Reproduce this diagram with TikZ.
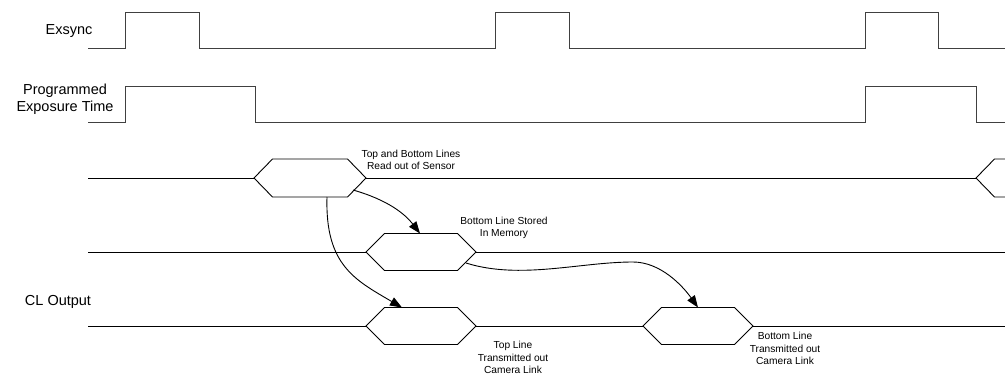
\documentclass[tikz,border=0pt]{standalone}
\usepackage{fontspec}
\setmainfont{Liberation Sans}
\usetikzlibrary{arrows.meta,calc}
\begin{document}
\begin{tikzpicture}[x=1pt,y=-1pt,
  wave/.style={line width=1pt,draw=black!75},
  sig/.style={line width=0.9pt,draw=black},
  hexbox/.style={draw=none,inner sep=0pt,outer sep=0pt,minimum width=110pt,minimum height=37pt},
  biglbl/.style={font=\fontsize{14.5}{17}\selectfont,align=center,inner sep=0pt},
  smalllbl/.style={font=\fontsize{10.2}{12.5}\selectfont,align=center,inner sep=0pt},
  flow/.style={line width=0.9pt,-{Triangle[length=12pt,width=9pt]}}]
\useasboundingbox (0,0) rectangle (1005,375);
\clip (0,0) rectangle (1005,375);
% waveforms
\draw[wave] (88,48) -- (125,48) -- (125,12) -- (199,12) -- (199,48) -- (495,48) -- (495,12) -- (569,12) -- (569,48) -- (865,48) -- (865,12) -- (938,12) -- (938,48) -- (1005,48);
\draw[wave] (88,122) -- (125,122) -- (125,86) -- (255,86) -- (255,122) -- (865,122) -- (865,86) -- (976,86) -- (976,122) -- (1005,122);
% labels
\node[biglbl] (lex) at (69,31) {Exsync};
\node[biglbl] (lpe) at (65,99) {Programmed\\Exposure Time};
\node[biglbl] (lcl) at (58,302) {CL Output};
% hexagon nodes
\node[hexbox,minimum width=112pt,minimum height=38pt] (s1) at (310,178) {};
\node[hexbox,minimum width=112pt,minimum height=38pt] (s2) at (1032,178) {};
\node[hexbox] (m1) at (421,252) {};
\node[hexbox] (c1) at (421,326) {};
\node[hexbox] (c2) at (698,326) {};
\foreach \h in {s1,s2,m1,c1,c2}{
  \draw[sig] (\h.west) -- ([xshift=18.5pt]\h.north west) -- ([xshift=-18.5pt]\h.north east) -- (\h.east) -- ([xshift=-18.5pt]\h.south east) -- ([xshift=18.5pt]\h.south west) -- cycle;
}
\coordinate (sstart) at (88,178);
\coordinate (mstart) at (88,252);
\coordinate (mend) at (1005,252);
\coordinate (cstart) at (88,326);
\coordinate (cend) at (1005,326);
\draw[sig] (sstart) -- (s1.west);
\draw[sig] (s1.east) -- (s2.west);
\draw[sig] (mstart) -- (m1.west);
\draw[sig] (m1.east) -- (mend);
\draw[sig] (cstart) -- (c1.west);
\draw[sig] (c1.east) -- (c2.west);
\draw[sig] (c2.east) -- (cend);
% small labels
\node[smalllbl] (t1) at (411,160) {Top and Bottom Lines\\Read out of Sensor};
\node[smalllbl] (t2) at (504,228) {Bottom Line Stored\\In Memory};
\node[smalllbl] (t3) at (513,357.5) {Top Line\\Transmitted out\\Camera Link};
\node[smalllbl] (t4) at (785,348.5) {Bottom Line\\Transmitted out\\Camera Link};
% arrows
\draw[flow] ([xshift=-13pt,yshift=-12pt]s1.east) .. controls (388,200) and (405,214) .. ([xshift=-1pt]m1.north);
\draw[flow] ([xshift=17pt]s1.south) .. controls (325,265) and (355,280) .. ([xshift=-19pt]c1.north);
\draw[flow] ([xshift=-10pt,yshift=-11pt]m1.east) .. controls (520,280) and (580,262) .. (633,262) .. controls (660,262) and (682,285) .. (c2.north);
\end{tikzpicture}
\end{document}
